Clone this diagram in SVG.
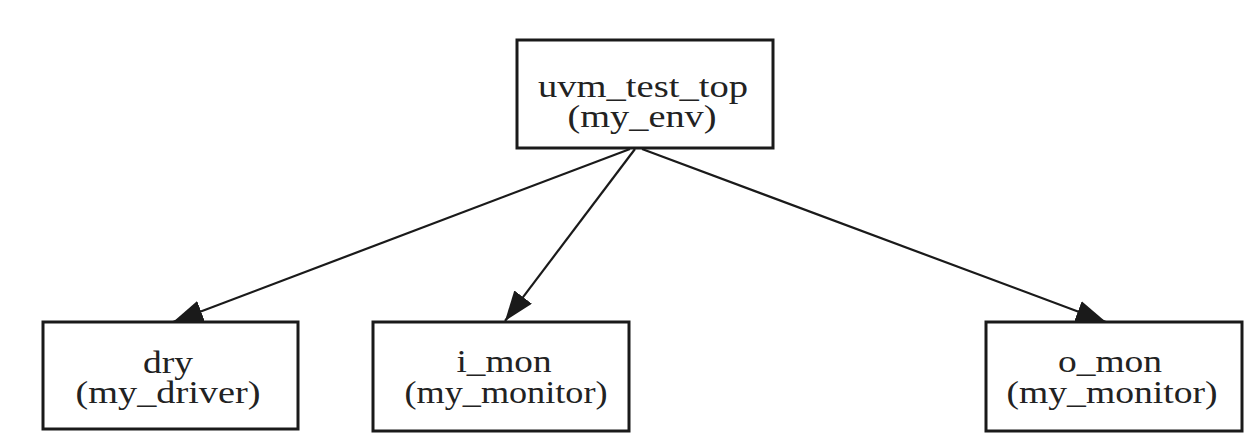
<svg xmlns="http://www.w3.org/2000/svg" width="1258" height="442" viewBox="0 0 1258 442">
<style>
.box{fill:#fff;stroke:#1a1a1a;stroke-width:3}
.lbl{font-family:"Liberation Serif","Times New Roman",serif;font-size:32px;fill:#222;text-anchor:middle}
.edge{stroke:#1a1a1a;stroke-width:2.2;fill:none}
</style>
<defs>
<marker id="arr" markerUnits="userSpaceOnUse" markerWidth="30" markerHeight="22" viewBox="0 0 30 22" refX="30" refY="11" orient="auto">
<path d="M0,0 L30,11 L0,22 z" fill="#1a1a1a"/>
</marker>
</defs>
<rect width="1258" height="442" fill="#fff"/>
<g id="connectors">
<line class="edge" x1="630" y1="149" x2="173" y2="322" marker-end="url(#arr)"/>
<line class="edge" x1="635" y1="149" x2="505" y2="321" marker-end="url(#arr)"/>
<line class="edge" x1="642" y1="149" x2="1106" y2="322" marker-end="url(#arr)"/>
</g>
<g id="uvm_test_top">
<rect class="box" x="517" y="40" width="256" height="108"/>
<text class="lbl" x="643" y="97" textLength="210" lengthAdjust="spacingAndGlyphs">uvm_test_top</text>
<text class="lbl" x="642" y="127" textLength="149" lengthAdjust="spacingAndGlyphs">(my_env)</text>
</g>
<g id="drv">
<rect class="box" x="43" y="322" width="255" height="107"/>
<text class="lbl" x="168" y="373" textLength="50" lengthAdjust="spacingAndGlyphs">dry</text>
<text class="lbl" x="168" y="403" textLength="185" lengthAdjust="spacingAndGlyphs">(my_driver)</text>
</g>
<g id="i_mon">
<rect class="box" x="373" y="322" width="256" height="109"/>
<text class="lbl" x="504" y="372" textLength="95" lengthAdjust="spacingAndGlyphs">i_mon</text>
<text class="lbl" x="506" y="403" textLength="203" lengthAdjust="spacingAndGlyphs">(my_monitor)</text>
</g>
<g id="o_mon">
<rect class="box" x="986" y="322" width="256" height="109"/>
<text class="lbl" x="1110" y="372" textLength="104" lengthAdjust="spacingAndGlyphs">o_mon</text>
<text class="lbl" x="1112" y="403" textLength="211" lengthAdjust="spacingAndGlyphs">(my_monitor)</text>
</g>
</svg>
